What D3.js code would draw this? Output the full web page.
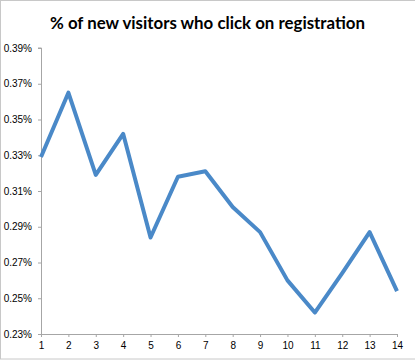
<!DOCTYPE html>
<html>
<head>
<meta charset="utf-8">
<script src="https://cdn.jsdelivr.net/npm/d3@7"></script>
<style>
  body { margin: 0; background: #fff; }
  .tick text { font-family: "Liberation Sans", Arial, sans-serif; font-size: 10px; fill: #000; }
</style>
</head>
<body>
<script>
var width = 415,
    height = 361;

// day number and share of new visitors clicking registration (%)
var days = [1, 2, 3, 4, 5, 6, 7, 8, 9, 10, 11, 12, 13, 14];
var rates = [0.329, 0.365, 0.319, 0.342, 0.284, 0.318, 0.321, 0.301, 0.287, 0.260, 0.242, 0.264, 0.287, 0.254];
var yTicks = [0.23, 0.25, 0.27, 0.29, 0.31, 0.33, 0.35, 0.37, 0.39];

var margin = {top: 48, right: 18, bottom: 27, left: 41};

var svg = d3.select("body").append("svg")
    .attr("width", width)
    .attr("height", height);

// sheet frame
svg.append("rect")
    .attr("x", 0.5).attr("y", 0.5)
    .attr("width", width + 2).attr("height", height - 2.5)
    .attr("fill", "none")
    .attr("stroke", "#c8c8c8");

var x = d3.scaleLinear()
    .domain([1, 14])
    .range([margin.left, width - margin.right]);

var y = d3.scaleLinear()
    .domain([0.23, 0.39])
    .range([height - margin.bottom, margin.top]);

// title squeezed to the narrow width of the original font
svg.append("text")
    .attr("x", 50)
    .attr("y", 29)
    .attr("textLength", 315)
    .attr("lengthAdjust", "spacingAndGlyphs")
    .style("font-family", "Lato, 'Open Sans', sans-serif")
    .style("font-weight", "bold")
    .style("font-size", "17.5px")
    .text("% of new visitors who click on registration");

var yAxis = svg.append("g")
    .attr("transform", "translate(" + margin.left + ",0)")
    .call(d3.axisLeft(y).tickValues(yTicks).tickSize(3).tickPadding(6)
        .tickFormat(function(d) { return d.toFixed(2) + "%"; }));

var xAxis = svg.append("g")
    .attr("transform", "translate(0," + (height - margin.bottom) + ")")
    .call(d3.axisBottom(x).tickValues(days).tickSize(3).tickPadding(5)
        .tickFormat(d3.format("d")));

svg.selectAll(".domain, .tick line")
    .attr("stroke", "#a6a6a6");
yAxis.select(".domain").attr("d", "M-3," + y(0.39) + "H0.5V" + (y(0.23) + 0.5));

var line = d3.line()
    .x(function(d, i) { return x(days[i]); })
    .y(function(d) { return y(d); });

svg.append("path")
    .datum(rates)
    .attr("fill", "none")
    .attr("stroke", "#4a89c8")
    .attr("stroke-width", 4)
    .attr("stroke-linejoin", "round")
    .attr("d", line);
</script>
</body>
</html>
